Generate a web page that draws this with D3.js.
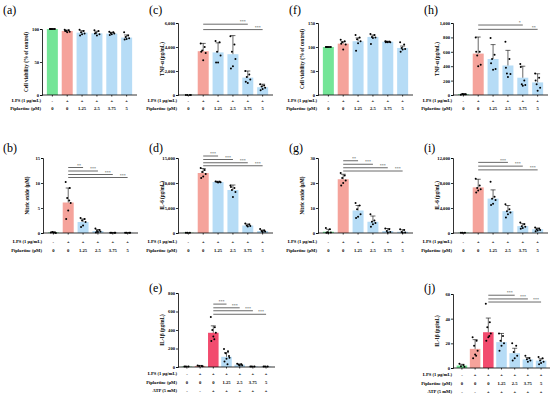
<!DOCTYPE html>
<html>
<head>
<meta charset="utf-8">
<title>Piplartine panels</title>
<script src="https://d3js.org/d3.v7.min.js"></script>
<style>
  body { margin: 0; background: #fff; }
  svg text { font-family: "Liberation Serif", "DejaVu Serif", serif; }
</style>
</head>
<body>
<svg id="fig" width="550" height="396"></svg>
<script>
// ---- data ----
const lps6 = ["-", "+", "+", "+", "+", "+"];
const pip6 = ["0", "0", "1.25", "2.5", "3.75", "5"];
const lps7 = ["-", "+", "+", "+", "+", "+", "+"];
const pip7 = ["0", "0", "0", "1.25", "2.5", "3.75", "5"];
const atp7 = ["-", "-", "+", "+", "+", "+", "+"];

// (a) cell viability
const aMeans = [100, 97, 94.5, 93.5, 93, 87];
const aErr = [0, 1.5, 3, 3, 2, 4];
const aPts = [[100, 100, 100, 100, 100, 100], [99, 98, 97, 96, 95, 97], [99, 97, 95, 93, 92, 90],
  [98, 97, 94, 92, 90, 93], [96, 95, 94, 93, 92, 91], [95, 90, 88, 86, 85, 84]];
// (c) TNF-a
const cMeans = [10, 3650, 3550, 3400, 1450, 650];
const cErr = [0, 650, 800, 1550, 550, 250];
const cPts = [[10, 10, 10, 10], [4300, 4000, 3700, 3500, 2900, 3600], [4500, 4400, 3600, 3300, 2700, 2700],
  [4900, 4200, 3600, 3000, 2400, 2200], [2000, 1700, 1500, 1300, 1000, 1100], [900, 800, 700, 600, 500, 400]];
const cSig = [{ to: 4, y: 5900, t: "***" }, { to: 5, y: 5450, t: "***" }];
// (f) cell viability
const fMeans = [100, 107, 112, 121, 111, 98];
const fErr = [0, 4, 7, 4, 1, 4];
const fPts = [[100, 100, 100, 100, 100, 100], [115, 112, 110, 105, 95, 107], [125, 120, 116, 112, 108, 92],
  [127, 125, 121, 120, 119, 106], [112, 111, 111, 110, 110, 110], [110, 105, 98, 96, 95, 90]];
// (h) TNF-a
const hMeans = [10, 575, 500, 410, 240, 175];
const hErr = [5, 230, 200, 210, 160, 120];
const hPts = [[5, 10, 15, 10, 10], [800, 600, 550, 420, 400, 600], [790, 560, 500, 360, 350, 440],
  [740, 500, 300, 290, 250, 380], [430, 200, 150, 140, 130, 390], [300, 240, 150, 100, 60, 200]];
const hSig = [{ to: 4, y: 972, t: "*" }, { to: 5, y: 912, t: "**" }];
// (b) nitric oxide
const bMeans = [0.1, 6.1, 2.2, 0.4, 0.05, 0.05];
const bErr = [0.1, 2.9, 0.6, 0.3, 0.02, 0.02];
const bPts = [[0.1, 0.1, 0.2, 0, 0.1], [10.2, 9.0, 7.0, 6.0, 4.5, 2.8, 6.5], [3.0, 2.8, 2.5, 2.2, 1.5, 1.2],
  [0.9, 0.6, 0.4, 0.3, 0.2, 0.1], [0.05, 0.05, 0.05, 0.05], [0.05, 0.05, 0.05, 0.05]];
const bSig = [{ to: 2, y: 13.1, t: "**" }, { to: 3, y: 12.4, t: "***" }, { to: 4, y: 11.7, t: "***" }, { to: 5, y: 11.1, t: "***" }];
// (d) IL-6
const dMeans = [50, 12000, 10200, 8600, 1500, 400];
const dErr = [20, 900, 150, 1000, 300, 200];
const dPts = [[50, 50, 50], [13000, 12600, 12200, 11800, 11300, 11000], [10300, 10250, 10200, 10150, 10100],
  [9500, 9000, 8600, 8200, 7200, 9200], [1900, 1700, 1500, 1400, 1300], [800, 500, 400, 300, 200]];
const dSig = [{ to: 2, y: 15400, t: "***" }, { to: 3, y: 14700, t: "***" }, { to: 4, y: 14050, t: "***" }, { to: 5, y: 13450, t: "***" }];
// (g) nitric oxide
const gMeans = [0.5, 21.5, 9, 4.5, 0.8, 0.5];
const gErr = [1, 2, 2, 2.3, 1, 0.8];
const gPts = [[2, 1.5, 0.3, 0.2, 0.1, 0.1], [24, 23, 22, 21, 20, 19], [12, 11, 9.5, 7.5, 6.5, 6],
  [7.5, 5, 4.5, 4, 3.5, 2.5], [1.8, 1.5, 0.8, 0.4, 0.2], [1.5, 1.2, 0.4, 0.2, 0.1]];
const gSig = [{ to: 2, y: 28.9, t: "**" }, { to: 3, y: 27.5, t: "***" }, { to: 4, y: 26.1, t: "***" }, { to: 5, y: 24.8, t: "***" }];
// (i) IL-6
const iMeans = [50, 7300, 5500, 3500, 1100, 600];
const iErr = [20, 1300, 1400, 900, 400, 200];
const iPts = [[50, 50, 60], [8700, 7600, 7200, 7000, 6800, 6500], [8200, 5800, 5500, 5300, 4700, 4500],
  [4600, 3800, 3500, 3300, 3000, 2500], [1700, 1400, 1100, 1000, 800, 700], [900, 700, 600, 500, 400, 300]];
const iSig = [{ to: 3, y: 11300, t: "***" }, { to: 4, y: 10700, t: "***" }, { to: 5, y: 10100, t: "***" }];
// (e) IL-1b
const eMeans = [5, 12, 370, 110, 25, 5, 5];
const eErr = [2, 5, 75, 45, 8, 2, 2];
const ePts = [[5, 5, 5], [15, 12, 10, 8], [540, 430, 400, 370, 330, 280, 300], [195, 170, 150, 120, 90, 60, 30, 100],
  [35, 30, 25, 20, 15], [5, 5, 5], [5, 5, 5]];
const eSig = [{ to: 3, y: 680, t: "***" }, { to: 4, y: 640, t: "***" }, { to: 5, y: 608, t: "***" }, { to: 6, y: 570, t: "***" }];
// (j) IL-1b
const jMeans = [2, 15.5, 29, 21, 12, 7, 6];
const jErr = [1, 7.5, 11.5, 7, 4, 1.5, 1.5];
const jPts = [[3.5, 2.5, 1.5, 1], [25, 22, 18, 14, 11, 8, 10], [52, 37, 33, 28, 25, 22, 26], [28, 26, 22, 20, 18, 14],
  [20, 18, 13, 10, 8, 6], [10, 8, 7, 6, 5], [9, 8, 6, 5, 4, 3]];
const jSig = [{ to: 4, y: 59, t: "***" }, { to: 5, y: 56, t: "***" }, { to: 6, y: 53.5, t: "***" }];

// ---- drawing ----
const GREEN = "#74e597", SALMON = "#f5a39b", BLUE = "#b6dcf6", MAGENTA = "#f24b6e";
const col6 = [GREEN, SALMON, BLUE, BLUE, BLUE, BLUE];
const col7 = [GREEN, SALMON, MAGENTA, BLUE, BLUE, BLUE, BLUE];
const jitter = [-2.5, 1.5, -1, 2.5, 0, -2, 1, 3];
const svg = d3.select("#fig");

function panel(p) {
  const n = p.means.length;
  const g = svg.append("g");
  const x = d3.scaleBand().domain(d3.range(n))
    .range([p.ax + 1, p.ax + (n == 7 ? 96 : 94)]).padding(n == 7 ? 0.2 : 0.26);
  const y = d3.scaleLinear().domain([0, d3.max(p.ticks)]).range([p.y0, p.y1]);
  const bw = x.bandwidth();

  g.append("text").attr("x", p.lx).attr("y", p.ly).attr("font-size", 12).text(p.label);

  g.selectAll("rect.bar").data(p.means).join("rect")
    .attr("x", (d, i) => x(i)).attr("width", bw)
    .attr("y", d => y(d)).attr("height", d => p.y0 - y(d))
    .attr("fill", (d, i) => p.colors[i]);

  // error bars (upper)
  p.means.forEach((m, i) => {
    const cx = x(i) + bw / 2;
    if (p.err[i] <= 0) return;
    g.append("line").attr("x1", cx).attr("x2", cx).attr("y1", y(m)).attr("y2", y(m + p.err[i]))
      .attr("stroke", "#000").attr("stroke-width", 0.6);
    g.append("line").attr("x1", cx - 2.5).attr("x2", cx + 2.5).attr("y1", y(m + p.err[i])).attr("y2", y(m + p.err[i]))
      .attr("stroke", "#000").attr("stroke-width", 0.6);
  });

  // individual points
  p.pts.forEach((arr, i) => {
    const cx = x(i) + bw / 2;
    g.selectAll(null).data(arr).join("circle")
      .attr("cx", (d, k) => cx + jitter[k % jitter.length])
      .attr("cy", d => y(d)).attr("r", 1).attr("fill", "#000");
  });

  // axes
  const yAx = g.append("g").attr("transform", `translate(${p.ax},0)`)
    .call(d3.axisLeft(y).tickValues(p.ticks).tickSize(2).tickPadding(1).tickFormat(d3.format(",")));
  const xAx = g.append("g").attr("transform", `translate(0,${p.y0})`)
    .call(d3.axisBottom(x).tickSize(1.5).tickFormat(""));
  xAx.select(".domain").attr("d", `M${p.ax},0H${p.ax + (n == 7 ? 97 : 95)}`);
  [yAx, xAx].forEach(a => {
    a.selectAll("path,line").attr("stroke", "#000").attr("stroke-width", 0.8);
    a.selectAll("text").attr("font-size", 4.6).attr("font-weight", "bold")
      .attr("font-family", "Liberation Serif");
  });

  g.append("text")
    .attr("transform", `translate(${p.ax - 14.5},${(p.y0 + p.y1) / 2}) rotate(-90)`)
    .attr("text-anchor", "middle").attr("font-size", 5.1).attr("font-weight", "bold")
    .text(p.ytitle);

  // condition rows
  p.rows.forEach((row, r) => {
    const ry = p.y0 + p.rowDy[r];
    g.append("text").attr("x", p.ax - 1).attr("y", ry).attr("text-anchor", "end")
      .attr("font-size", 4.6).attr("font-weight", "bold").text(row.name);
    g.selectAll(null).data(row.vals).join("text")
      .attr("x", (d, i) => x(i) + bw / 2).attr("y", ry)
      .attr("text-anchor", "middle").attr("font-size", 4.6).attr("font-weight", "bold")
      .text(d => d);
  });

  // significance
  (p.sig || []).forEach(s => {
    const x1 = x(p.ref) + bw / 2, x2 = x(s.to) + bw / 2;
    g.append("line").attr("x1", x1).attr("x2", x2).attr("y1", y(s.y)).attr("y2", y(s.y))
      .attr("stroke", "#444").attr("stroke-width", 0.8);
    g.append("text").attr("x", x2 - 2).attr("y", y(s.y) - 0.8).attr("text-anchor", "end")
      .attr("font-size", 4).attr("fill", "#333").text(s.t);
  });
}

const rows6 = [{ name: "LPS (1 μg/mL)", vals: lps6 }, { name: "Piplartine (μM)", vals: pip6 }];
const rows7 = [{ name: "LPS (1 μg/mL)", vals: lps7 }, { name: "Piplartine (μM)", vals: pip7 }, { name: "ATP (5 mM)", vals: atp7 }];
const dyTop = [7, 15], dyMid = [9.5, 19], dyLow = [8, 16.6, 25];

panel({ label: "(a)", lx: 3, ly: 14, ax: 42, y0: 95, y1: 29, ticks: [0, 50, 100], means: aMeans, err: aErr, pts: aPts,
  colors: col6, ytitle: "Cell viability (% of control)", rows: rows6, rowDy: dyTop });
panel({ label: "(c)", lx: 149, ly: 14, ax: 178, y0: 95, y1: 23, ticks: [0, 2000, 4000, 6000], means: cMeans, err: cErr, pts: cPts,
  colors: col6, ytitle: "TNF-α (pg/mL)", rows: rows6, rowDy: dyTop, sig: cSig, ref: 1 });
panel({ label: "(f)", lx: 289, ly: 14, ax: 318, y0: 95, y1: 23, ticks: [0, 50, 100, 150], means: fMeans, err: fErr, pts: fPts,
  colors: col6, ytitle: "Cell viability (% of control)", rows: rows6, rowDy: dyTop });
panel({ label: "(h)", lx: 424, ly: 14, ax: 453, y0: 95, y1: 23, ticks: [0, 200, 400, 600, 800, 1000], means: hMeans, err: hErr, pts: hPts,
  colors: col6, ytitle: "TNF-α (pg/mL)", rows: rows6, rowDy: dyTop, sig: hSig, ref: 1 });

panel({ label: "(b)", lx: 3, ly: 152, ax: 43, y0: 233, y1: 158, ticks: [0, 5, 10, 15], means: bMeans, err: bErr, pts: bPts,
  colors: col6, ytitle: "Nitric oxide (μM)", rows: rows6, rowDy: dyMid, sig: bSig, ref: 1 });
panel({ label: "(d)", lx: 149, ly: 152, ax: 178, y0: 233, y1: 158, ticks: [0, 5000, 10000, 15000], means: dMeans, err: dErr, pts: dPts,
  colors: col6, ytitle: "IL-6 (pg/mL)", rows: rows6, rowDy: dyMid, sig: dSig, ref: 1 });
panel({ label: "(g)", lx: 289, ly: 152, ax: 318, y0: 233, y1: 158, ticks: [0, 10, 20, 30], means: gMeans, err: gErr, pts: gPts,
  colors: col6, ytitle: "Nitric oxide (μM)", rows: rows6, rowDy: dyMid, sig: gSig, ref: 1 });
panel({ label: "(i)", lx: 424, ly: 152, ax: 453, y0: 233, y1: 158, ticks: [0, 4000, 8000, 12000], means: iMeans, err: iErr, pts: iPts,
  colors: col6, ytitle: "IL-6 (pg/mL)", rows: rows6, rowDy: dyMid, sig: iSig, ref: 1 });

panel({ label: "(e)", lx: 149, ly: 292, ax: 178, y0: 367, y1: 293, ticks: [0, 200, 400, 600, 800], means: eMeans, err: eErr, pts: ePts,
  colors: col7, ytitle: "IL-1β (pg/mL)", rows: rows7, rowDy: dyLow, sig: eSig, ref: 2 });
panel({ label: "(j)", lx: 424, ly: 292, ax: 453, y0: 368, y1: 294, ticks: [0, 20, 40, 60], means: jMeans, err: jErr, pts: jPts,
  colors: col7, ytitle: "IL-1β (pg/mL)", rows: rows7, rowDy: dyLow, sig: jSig, ref: 2 });
</script>
</body>
</html>
